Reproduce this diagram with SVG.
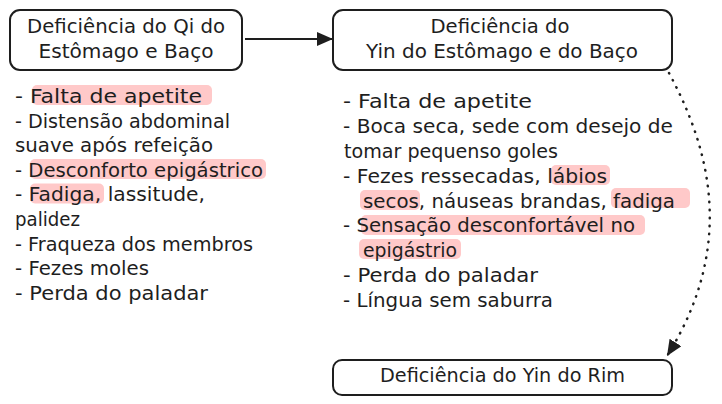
<svg xmlns="http://www.w3.org/2000/svg" width="722" height="404" viewBox="0 0 722 404">
<style>
  .box { fill: #ffffff; stroke: #1e1e1e; stroke-width: 2; }
  .t { font-family: "DejaVu Sans", "Liberation Sans", sans-serif; font-size: 19px; fill: #1e1e1e; }
  .c { text-anchor: middle; }
  .hl { fill: #ffc9c9; }
  .solid { fill: none; stroke: #1e1e1e; stroke-width: 2; }
  .dotted { fill: none; stroke: #1e1e1e; stroke-width: 2.5; stroke-dasharray: 0.5 7.5; stroke-linecap: round; }
</style>
<defs>
  <marker id="ah" markerUnits="userSpaceOnUse" markerWidth="18" markerHeight="16" refX="16" refY="7" orient="auto">
    <path d="M0 0 L16 7 L0 14 Z" fill="#1e1e1e"/>
  </marker>
</defs>
<rect width="722" height="404" fill="#ffffff"/>

<g id="connectors">
  <path class="solid" d="M245 39 L333 39" marker-end="url(#ah)"/>
  <path class="dotted" d="M669 73 C705 140, 740 240, 667 356" marker-end="url(#ah)"/>
</g>

<g id="node-qi">
  <rect class="box" x="10" y="10" width="232" height="60" rx="10"/>
  <text class="t c" x="126" y="33" textLength="198" lengthAdjust="spacingAndGlyphs">Deficiência do Qi do</text>
  <text class="t c" x="126" y="58" textLength="175" lengthAdjust="spacingAndGlyphs">Estômago e Baço</text>
</g>

<g id="node-yin-estomago">
  <rect class="box" x="333" y="10" width="339" height="60" rx="10"/>
  <text class="t c" x="500" y="33" textLength="139" lengthAdjust="spacingAndGlyphs">Deficiência do</text>
  <text class="t c" x="502" y="58" textLength="272" lengthAdjust="spacingAndGlyphs">Yin do Estômago e do Baço</text>
</g>

<g id="node-yin-rim">
  <rect class="box" x="333" y="360" width="339" height="35" rx="9"/>
  <text class="t c" x="502.5" y="382" textLength="245" lengthAdjust="spacingAndGlyphs">Deficiência do Yin do Rim</text>
</g>

<g id="list-qi">
  <rect class="hl" x="32" y="85" width="180" height="20" rx="5"/>
  <rect class="hl" x="30" y="159" width="236" height="20" rx="5"/>
  <rect class="hl" x="30" y="183.5" width="74" height="20" rx="5"/>
  <text class="t" x="15" y="103" textLength="187" lengthAdjust="spacingAndGlyphs">- Falta de apetite</text>
  <text class="t" x="15" y="127.6" textLength="215" lengthAdjust="spacingAndGlyphs">- Distensão abdominal</text>
  <text class="t" x="15" y="152.2" textLength="198" lengthAdjust="spacingAndGlyphs">suave após refeição</text>
  <text class="t" x="15" y="176.8" textLength="248" lengthAdjust="spacingAndGlyphs">- Desconforto epigástrico</text>
  <text class="t" x="15" y="201.4" textLength="190" lengthAdjust="spacingAndGlyphs">- Fadiga, lassitude,</text>
  <text class="t" x="15" y="226" textLength="65" lengthAdjust="spacingAndGlyphs">palidez</text>
  <text class="t" x="15" y="250.6" textLength="238" lengthAdjust="spacingAndGlyphs">- Fraqueza dos membros</text>
  <text class="t" x="15" y="275.2" textLength="134" lengthAdjust="spacingAndGlyphs">- Fezes moles</text>
  <text class="t" x="15" y="299.8" textLength="193" lengthAdjust="spacingAndGlyphs">- Perda do paladar</text>
</g>

<g id="list-yin">
  <rect class="hl" x="551" y="165" width="59" height="20" rx="5"/>
  <rect class="hl" x="360" y="190" width="60" height="20" rx="5"/>
  <rect class="hl" x="611" y="188" width="79" height="20" rx="5"/>
  <rect class="hl" x="361" y="215" width="284" height="20" rx="5"/>
  <rect class="hl" x="359" y="239" width="102" height="20" rx="5"/>
  <text class="t" x="343" y="108.3" textLength="189" lengthAdjust="spacingAndGlyphs">- Falta de apetite</text>
  <text class="t" x="343" y="133.1" textLength="330" lengthAdjust="spacingAndGlyphs">- Boca seca, sede com desejo de</text>
  <text class="t" x="344" y="157.9" textLength="214" lengthAdjust="spacingAndGlyphs">tomar pequenso goles</text>
  <text class="t" x="343" y="182.7" textLength="264" lengthAdjust="spacingAndGlyphs">- Fezes ressecadas, lábios</text>
  <text class="t" x="363" y="207.5" textLength="312" lengthAdjust="spacingAndGlyphs">secos, náuseas brandas, fadiga</text>
  <text class="t" x="343" y="232.3" textLength="292" lengthAdjust="spacingAndGlyphs">- Sensação desconfortável no</text>
  <text class="t" x="363" y="257.1" textLength="94" lengthAdjust="spacingAndGlyphs">epigástrio</text>
  <text class="t" x="343" y="281.9" textLength="195" lengthAdjust="spacingAndGlyphs">- Perda do paladar</text>
  <text class="t" x="343" y="306.7" textLength="210" lengthAdjust="spacingAndGlyphs">- Língua sem saburra</text>
</g>
</svg>
